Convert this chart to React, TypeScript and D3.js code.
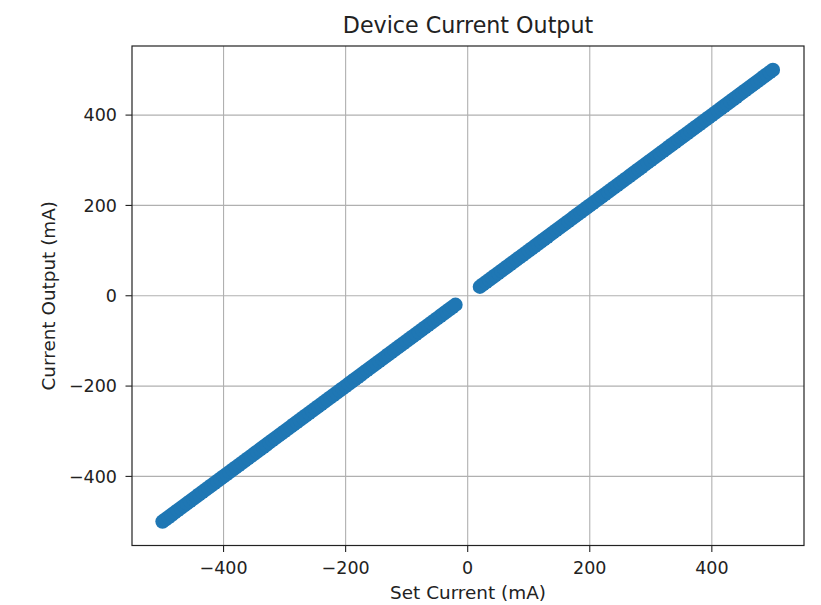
import React from "react";
import * as d3 from "d3";

const title = "Device Current Output";
const xLabel = "Set Current (mA)";
const yLabel = "Current Output (mA)";

const setCurrent: number[] = [
  -500, -495, -490, -485, -480, -475, -470, -465, -460, -455,
  -450, -445, -440, -435, -430, -425, -420, -415, -410, -405,
  -400, -395, -390, -385, -380, -375, -370, -365, -360, -355,
  -350, -345, -340, -335, -330, -325, -320, -315, -310, -305,
  -300, -295, -290, -285, -280, -275, -270, -265, -260, -255,
  -250, -245, -240, -235, -230, -225, -220, -215, -210, -205,
  -200, -195, -190, -185, -180, -175, -170, -165, -160, -155,
  -150, -145, -140, -135, -130, -125, -120, -115, -110, -105,
  -100, -95, -90, -85, -80, -75, -70, -65, -60, -55,
  -50, -45, -40, -35, -30, -25, -20,
  20, 25, 30, 35, 40, 45, 50, 55, 60, 65,
  70, 75, 80, 85, 90, 95, 100, 105, 110, 115,
  120, 125, 130, 135, 140, 145, 150, 155, 160, 165,
  170, 175, 180, 185, 190, 195, 200, 205, 210, 215,
  220, 225, 230, 235, 240, 245, 250, 255, 260, 265,
  270, 275, 280, 285, 290, 295, 300, 305, 310, 315,
  320, 325, 330, 335, 340, 345, 350, 355, 360, 365,
  370, 375, 380, 385, 390, 395, 400, 405, 410, 415,
  420, 425, 430, 435, 440, 445, 450, 455, 460, 465,
  470, 475, 480, 485, 490, 495, 500,
];

const currentOutput: number[] = [
  -500, -495, -490, -485, -480, -475, -470, -465, -460, -455,
  -450, -445, -440, -435, -430, -425, -420, -415, -410, -405,
  -400, -395, -390, -385, -380, -375, -370, -365, -360, -355,
  -350, -345, -340, -335, -330, -325, -320, -315, -310, -305,
  -300, -295, -290, -285, -280, -275, -270, -265, -260, -255,
  -250, -245, -240, -235, -230, -225, -220, -215, -210, -205,
  -200, -195, -190, -185, -180, -175, -170, -165, -160, -155,
  -150, -145, -140, -135, -130, -125, -120, -115, -110, -105,
  -100, -95, -90, -85, -80, -75, -70, -65, -60, -55,
  -50, -45, -40, -35, -30, -25, -20,
  20, 25, 30, 35, 40, 45, 50, 55, 60, 65,
  70, 75, 80, 85, 90, 95, 100, 105, 110, 115,
  120, 125, 130, 135, 140, 145, 150, 155, 160, 165,
  170, 175, 180, 185, 190, 195, 200, 205, 210, 215,
  220, 225, 230, 235, 240, 245, 250, 255, 260, 265,
  270, 275, 280, 285, 290, 295, 300, 305, 310, 315,
  320, 325, 330, 335, 340, 345, 350, 355, 360, 365,
  370, 375, 380, 385, 390, 395, 400, 405, 410, 415,
  420, 425, 430, 435, 440, 445, 450, 455, 460, 465,
  470, 475, 480, 485, 490, 495, 500,
];

const xTicks: number[] = [-400, -200, 0, 200, 400];
const yTicks: number[] = [-400, -200, 0, 200, 400];

const W = 821;
const H = 605;
const left = 132;
const right = 804;
const top = 46;
const bottom = 545.5;

const fmt = (v: number) => (v < 0 ? "\u2212" + Math.abs(v) : String(v));

export default function App() {
  const x = d3.scaleLinear().domain([-550, 551]).range([left, right]);
  const y = d3.scaleLinear().domain([-553, 553]).range([bottom, top]);
  const font = "'DejaVu Sans', sans-serif";
  const pts = setCurrent.map((s, i) => [s, currentOutput[i]]);

  return (
    <svg
      width={W}
      height={H}
      style={{ position: "absolute", left: 0, top: 0, background: "#fff" }}
      fontFamily={font}
    >
      <rect x={0} y={0} width={W} height={H} fill="#fff" />
      {xTicks.map((t) => (
        <line key={"gx" + t} x1={x(t)} x2={x(t)} y1={top} y2={bottom} stroke="#b0b0b0" strokeWidth={1.1} />
      ))}
      {yTicks.map((t) => (
        <line key={"gy" + t} x1={left} x2={right} y1={y(t)} y2={y(t)} stroke="#b0b0b0" strokeWidth={1.1} />
      ))}
      <g>
        {pts.map((p, i) => (
          <circle key={i} cx={x(p[0])} cy={y(p[1])} r={7.2} fill="#1f77b4" />
        ))}
      </g>
      <rect x={left} y={top} width={right - left} height={bottom - top} fill="none" stroke="#222" strokeWidth={1.2} />
      {xTicks.map((t) => (
        <g key={"xt" + t}>
          <line x1={x(t)} x2={x(t)} y1={bottom} y2={bottom + 6.5} stroke="#222" strokeWidth={1.1} />
          <text x={x(t)} y={574} textAnchor="middle" fontSize={17.5} fill="#222">
            {fmt(t)}
          </text>
        </g>
      ))}
      {yTicks.map((t) => (
        <g key={"yt" + t}>
          <line x1={left - 6.5} x2={left} y1={y(t)} y2={y(t)} stroke="#222" strokeWidth={1.1} />
          <text x={117} y={y(t)} dy="0.36em" textAnchor="end" fontSize={17.5} fill="#222">
            {fmt(t)}
          </text>
        </g>
      ))}
      <text x={(left + right) / 2} y={599} textAnchor="middle" fontSize={18.4} fill="#222">
        {xLabel}
      </text>
      <text
        transform={`translate(${55}, ${(top + bottom) / 2}) rotate(-90)`}
        textAnchor="middle"
        fontSize={18.4}
        fill="#222"
      >
        {yLabel}
      </text>
      <text x={(left + right) / 2} y={33} textAnchor="middle" fontSize={22.2} fill="#222">
        {title}
      </text>
    </svg>
  );
}
